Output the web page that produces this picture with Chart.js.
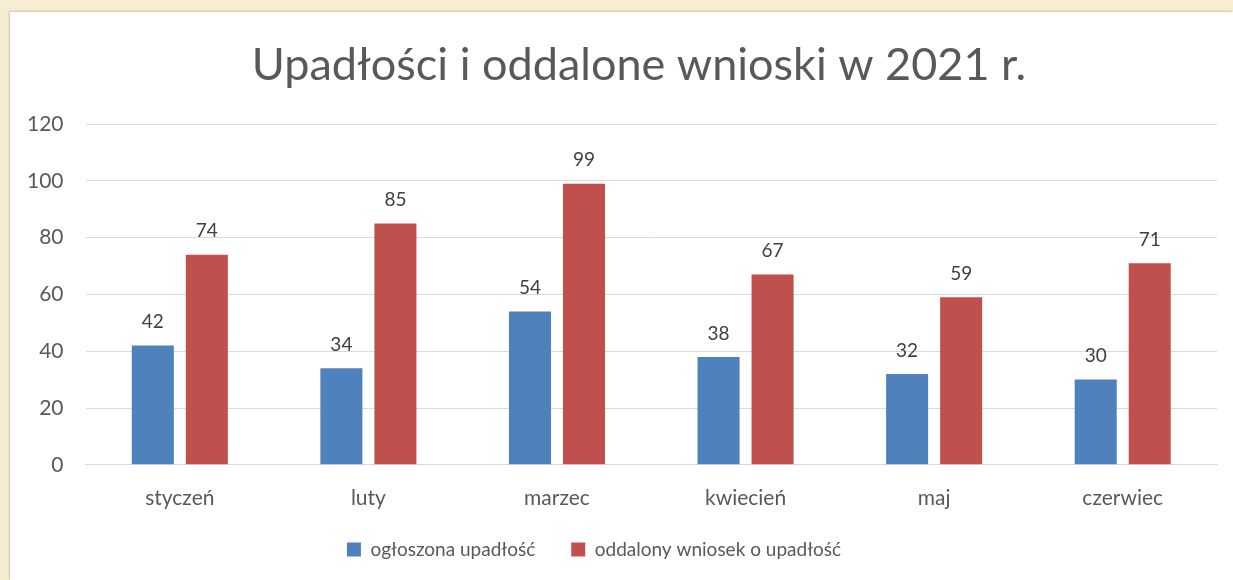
<!DOCTYPE html>
<html>
<head>
<meta charset="utf-8">
<script src="https://cdn.jsdelivr.net/npm/chart.js@4"></script>
<style>
  html, body { margin: 0; padding: 0; }
  body { width: 1233px; height: 580px; background: #f7edd3; overflow: hidden; position: relative; }
  #panel {
    position: absolute; left: 10px; top: 12px; width: 1223px; height: 568px;
    background: #fff; box-shadow: -1px -1px 2px rgba(0,0,0,0.18);
  }
</style>
</head>
<body>
<div id="panel"><canvas id="chart" width="1223" height="568"></canvas></div>
<script>
const categories = ["styczeń", "luty", "marzec", "kwiecień", "maj", "czerwiec"];
const declared = [42, 34, 54, 38, 32, 30];
const dismissed = [74, 85, 99, 67, 59, 71];
const yTicks = [0, 20, 40, 60, 80, 100, 120];

const FONT = "Lato, 'Open Sans', sans-serif";

// draws the value above each bar
const valueLabels = {
  id: "valueLabels",
  afterDatasetsDraw(chart) {
    const ctx = chart.ctx;
    ctx.save();
    ctx.font = "19px " + FONT;
    ctx.fillStyle = "#404040";
    ctx.textAlign = "center";
    ctx.textBaseline = "bottom";
    chart.data.datasets.forEach((ds, i) => {
      chart.getDatasetMeta(i).data.forEach((bar, j) => {
        ctx.fillText(ds.data[j], bar.x, bar.y - 14);
      });
    });
    ctx.restore();
  }
};

// title and legend in the original are not quite centred
const nudge = {
  id: "nudge",
  afterLayout(chart) {
    chart.titleBlock.left += 28;
    chart.titleBlock.right += 28;
    chart.legend.left -= 17;
    chart.legend.right -= 17;
    chart.legend.top -= 20;
    chart.legend.bottom -= 20;
  }
};

const chart = new Chart(document.getElementById("chart"), {
  type: "bar",
  data: {
    labels: categories,
    datasets: [
      { label: "ogłoszona upadłość", data: declared, backgroundColor: "#4f81bd" },
      { label: "oddalony wniosek o upadłość", data: dismissed, backgroundColor: "#c0504d" },
    ],
  },
  options: {
    responsive: false,
    animation: false,
    categoryPercentage: 0.573,
    barPercentage: 0.778,
    layout: { padding: { left: -5, right: 16, top: 16, bottom: -9 } },
    plugins: {
      title: {
        display: true,
        text: "Upadłości i oddalone wnioski w 2021 r.",
        color: "#595959",
        font: { family: FONT, size: 45, weight: "normal" },
        padding: { top: 10, bottom: 32 },
      },
      legend: {
        position: "bottom",
        labels: {
          boxWidth: 14,
          boxHeight: 14,
          color: "#595959",
          padding: 36,
          font: { family: FONT, size: 19 },
        },
      },
      tooltip: { enabled: false },
    },
    scales: {
      x: {
        grid: { display: false },
        border: { color: "#d9d9d9" },
        ticks: { color: "#595959", font: { family: FONT, size: 21 }, padding: 13 },
      },
      y: {
        min: 0,
        max: 120,
        afterBuildTicks(axis) { axis.ticks = yTicks.map(v => ({ value: v })); },
        border: { display: false },
        grid: { color: "#d9d9d9", drawTicks: false },
        ticks: { color: "#595959", font: { family: FONT, size: 21 }, padding: 22 },
      },
    },
  },
  plugins: [valueLabels, nudge],
});
</script>
</body>
</html>
